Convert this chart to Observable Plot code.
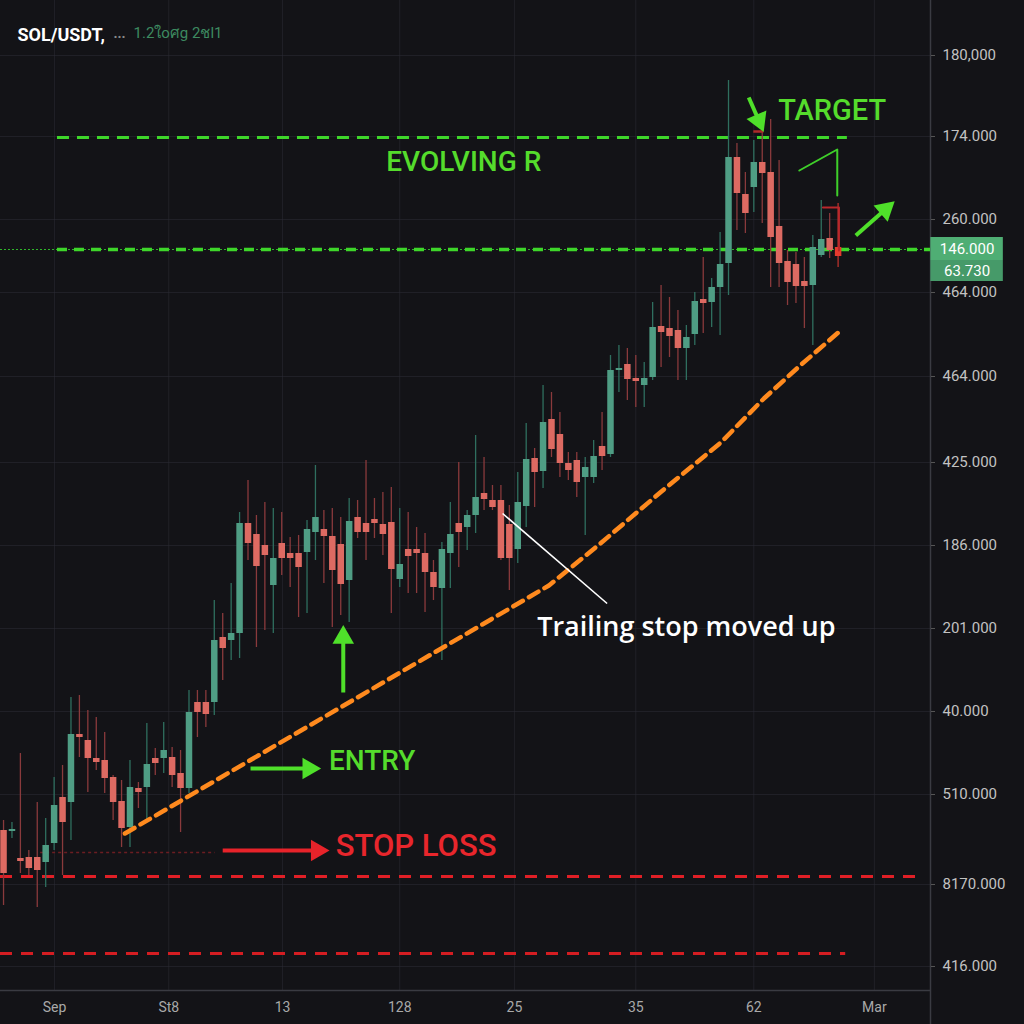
<!DOCTYPE html>
<html><head><meta charset="utf-8">
<script src="https://cdn.jsdelivr.net/npm/d3@7"></script>
<script src="https://cdn.jsdelivr.net/npm/@observablehq/plot@0.6"></script>
<style>html,body{margin:0;padding:0;background:#131317;overflow:hidden;}</style>
</head><body><div id="chart"></div>
<script>
// ---- candle data ----
const opens = [34.0,33.8,28.4,28.6,28.6,27.6,31.4,40.6,39.6,53.2,
52.0,48.4,48.0,44.6,39.8,34.6,42.4,42.6,48.4,48.4,
48.6,45.4,42.4,59.6,59.6,59.6,72.6,72.0,73.4,95.4,
93.2,91.0,83.0,91.4,89.4,89.4,89.6,93.6,94.2,92.8,
91.2,84.0,96.6,95.4,96.2,95.2,95.6,84.2,90.2,90.2,
89.4,85.6,82.4,89.4,95.4,94.6,97.0,101.4,100.0,100.0,
95.2,90.2,98.8,108.4,105.8,116.2,113.2,107.4,108.0,104.6,
104.6,110.8,109.2,126.0,127.2,124.4,123.0,124.6,134.8,134.4,
134.0,130.4,133.2,140.2,139.6,142.6,147.4,168.6,161.2,162.6,
167.6,165.6,154.8,147.8,147.2,143.8,143.0,149.0,152.4,150.6];
const highs = [36.0,35.6,49.4,30.0,39.6,36.4,44.6,47.0,60.6,61.0,
58.0,56.6,53.6,45.0,44.0,48.0,43.6,55.4,50.4,55.6,
50.6,50.0,62.0,62.0,62.0,80.0,77.4,83.4,97.6,104.0,
97.0,99.6,98.4,97.6,92.6,93.0,96.0,107.0,98.0,98.4,
96.6,100.4,100.0,108.0,100.4,101.6,102.6,98.4,97.6,94.6,
93.4,88.0,91.6,99.6,107.6,98.0,113.0,108.6,103.0,103.0,
99.0,105.6,115.4,110.4,123.0,121.6,117.6,109.6,109.6,108.6,
112.0,117.6,129.0,131.0,130.4,129.0,127.6,139.6,143.0,140.6,
138.0,135.0,141.6,148.6,144.4,153.6,184.0,171.4,165.6,172.0,
173.8,176.2,168.0,150.0,149.6,148.6,153.0,160.0,157.4,159.4];
const lows = [19.0,32.4,25.4,25.0,18.6,22.6,30.0,25.0,32.0,48.6,
41.6,46.0,41.4,36.0,30.6,30.6,38.4,36.0,45.0,45.4,
42.6,33.6,41.4,52.6,54.6,57.0,64.0,68.0,68.4,88.0,
70.6,74.0,73.4,85.0,82.6,76.6,77.4,88.0,83.4,74.6,
77.0,75.6,92.4,88.0,92.4,89.0,77.4,82.6,81.4,81.4,
77.6,80.0,68.0,82.4,86.6,90.0,93.4,98.0,98.0,88.0,
82.0,87.4,94.6,98.6,102.4,108.6,104.6,104.0,100.6,93.0,
103.4,106.0,108.6,121.6,120.0,118.6,118.6,124.0,126.6,128.6,
124.0,124.0,131.0,133.4,134.6,133.0,141.0,154.0,153.4,157.6,
155.4,142.6,142.6,139.0,139.4,134.4,131.0,148.6,148.4,146.6];
const closes = [25.4,34.2,27.8,26.4,26.0,31.0,39.0,35.6,53.2,52.6,
48.4,47.6,44.4,39.6,34.4,42.6,41.6,47.2,47.4,50.0,
45.0,42.4,57.6,57.6,57.2,72.0,70.4,73.4,95.4,91.4,
86.8,89.0,88.4,88.4,88.4,86.6,94.2,96.6,92.8,86.0,
83.2,95.8,93.6,93.6,95.4,93.2,86.2,87.2,88.8,89.4,
85.6,82.6,90.2,93.2,93.6,97.0,100.6,100.2,98.6,88.4,
88.4,99.6,108.2,105.6,115.6,110.2,107.4,106.0,103.6,106.6,
108.8,108.8,126.0,126.4,124.2,123.8,124.4,134.6,133.6,132.8,
130.4,132.6,139.8,139.4,142.6,147.2,168.6,161.4,157.4,167.6,
165.4,152.6,147.4,143.6,142.8,142.8,150.6,152.2,150.0,148.8];

// ---- axes ----
const xTicks = [6.05, 19.6, 33.1, 47.0, 60.6, 75.0, 89.0, 103.3];
const xLabels = ["Sep","St8","13","128","25","35","62","Mar"];
const yTicks = [189, 172.8, 156.2, 141.6, 124.8, 107.6, 91, 74.4, 57.8, 41.2, 23.2, 6.8];
const yLabels = ["180,000","174.000","260.000","464.000","464.000","425.000","186.000","201.000","40.000","510.000","8170.000","416.000"];
const xDomain = [-0.36, 109.96];
const yDomain = [2, 200];

// ---- levels & annotations ----
const targetLevel = 172.6;
const resistanceLevel = 150.2;
const stopLevel = 24.8;
const deepStopLevel = 9.4;
const faintStopLevel = 29.6;
const trailIdx = [14.4, 64.7, 70.8, 77.9, 85.1, 90.2, 94.5, 99.3];
const trailPrice = [33.4, 83.0, 91.4, 101.6, 111.6, 120.4, 127.0, 134.0];
const arrowX1 = [26.0, 29.3, 40.3, 88.4, 101.1];
const arrowY1 = [30.0, 46.4, 61.6, 180.6, 153.0];
const arrowX2 = [37.2, 36.2, 40.3, 89.6, 104.6];
const arrowY2 = [30.0, 46.4, 72.6, 176.0, 158.2];
const arrowRotate = [90, 90, 0, 157, 49];
const arrowColor = ["#e8232a", "#4fe02a", "#4fe02a", "#4fe02a", "#4fe02a"];
const labelText = ["TARGET", "ENTRY", "STOP LOSS"];
const labelX = [91.9, 38.6, 39.4];
const labelY = [178.0, 47.8, 30.8];
const labelColor = ["#55dc2c", "#55dc2c", "#e8262c"];
const labelSize = [29, 28, 31];
const priceTags = ["146.000", "63.730"];
const priceTagTop = [152.6, 148.0];
const priceTagBottom = [148.0, 143.8];
const priceTagFill = ["#4fae74", "#469a69"];

const candles = opens.map((o, i) => ({i, open: o, high: highs[i], low: lows[i], close: closes[i]}));
const last = candles.length - 1;
const bodyColor = d => d.i === last ? "#e53a2e" : (d.close >= d.open ? "#4f9d84" : "#dd6a62");
const wickColor = d => d.i === last ? "#b8322c" : (d.close >= d.open ? "#2f6f5f" : "#8a3a3c");
const trail = trailIdx.map((x, k) => ({x, y: trailPrice[k]}));
const arrows = arrowX1.map((x1, k) => ({x1, y1: arrowY1[k], x2: arrowX2[k], y2: arrowY2[k], r: arrowRotate[k], c: arrowColor[k]}));
const labels = labelText.map((t, k) => ({t, x: labelX[k], y: labelY[k], c: labelColor[k], s: labelSize[k]}));
const tags = priceTags.map((t, k) => ({t, y1: priceTagTop[k], y2: priceTagBottom[k], f: priceTagFill[k]}));
const xLab = new Map(xTicks.map((v, k) => [v, xLabels[k]]));
const yLab = new Map(yTicks.map((v, k) => [v, yLabels[k]]));

const chart = Plot.plot({
  width: 1024, height: 1024,
  marginTop: 0, marginLeft: 0, marginRight: 94, marginBottom: 34,
  x: {domain: xDomain, axis: null},
  y: {domain: yDomain, axis: null},
  style: {background: "#131317", color: "#bdbdbd", fontFamily: "Roboto, sans-serif", overflow: "visible"},
  marks: [
    Plot.gridY(yTicks, {stroke: "#2b2c34", strokeOpacity: 0.55}),
    Plot.gridX(xTicks, {stroke: "#2b2c34", strokeOpacity: 0.55}),
    Plot.ruleY([yDomain[0]], {stroke: "#3a3b42", strokeWidth: 1.5}),
    Plot.ruleX([xDomain[1]], {y1: -5, y2: yDomain[1], stroke: "#3a3b42", strokeWidth: 1.5}),
    Plot.axisY(yTicks, {anchor: "right", tickFormat: d => yLab.get(d), tickSize: 4, tickPadding: 8, fontSize: 15, color: "#c2c2c2", stroke: "#555"}),
    Plot.axisX(xTicks, {anchor: "bottom", tickFormat: d => xLab.get(d), tickSize: 0, tickPadding: 12, fontSize: 14, color: "#a9a9a9"}),
    // levels
    Plot.ruleY([targetLevel], {x1: 6.4, x2: 100.1, stroke: "#3ed62a", strokeWidth: 3, strokeDasharray: "12 8"}),
    Plot.ruleY([resistanceLevel], {x1: xDomain[0], x2: xDomain[1], stroke: "#2fb52a", strokeWidth: 1, strokeDasharray: "2 2"}),
    Plot.ruleY([resistanceLevel], {x1: 6.4, x2: xDomain[1], stroke: "#3ed62a", strokeWidth: 3.5, strokeDasharray: "10 7"}),
    Plot.ruleY([faintStopLevel], {x1: 4.4, x2: 25.1, stroke: "#6b1d22", strokeWidth: 1.5, strokeDasharray: "3 3"}),
    Plot.ruleY([stopLevel], {x1: xDomain[0], x2: 108.8, stroke: "#e01f26", strokeWidth: 3, strokeDasharray: "12 9"}),
    Plot.ruleY([deepStopLevel], {x1: xDomain[0], x2: 99.9, stroke: "#d41d22", strokeWidth: 3, strokeDasharray: "12 9"}),
    // candles
    Plot.ruleX(candles, {x: "i", y1: "low", y2: "high", stroke: wickColor, strokeWidth: 1.3}),
    Plot.ruleX(candles, {x: "i", y1: "open", y2: "close", stroke: bodyColor, strokeWidth: 6.5}),
    // trailing stop
    Plot.line(trail, {x: "x", y: "y", stroke: "#ff8a1e", strokeWidth: 4.5, strokeDasharray: "11 7", strokeLinejoin: "round"}),
    // small annotation strokes
    Plot.line([{x: 94.4, y: 166}, {x: 98.9, y: 170.2}, {x: 98.9, y: 161}], {x: "x", y: "y", stroke: "#3fcf2a", strokeWidth: 2}),
    Plot.line([{x: 97.2, y: 158.6}, {x: 99.1, y: 158.6}, {x: 99.1, y: 150}], {x: "x", y: "y", stroke: "#b8282c", strokeWidth: 2}),
    Plot.ruleY([173.8], {x1: 89.0, x2: 90.2, stroke: "#b02a2a", strokeWidth: 2.5}),
    Plot.link([{x1: 59.2, y1: 97.4, x2: 71.6, y2: 79.4}], {x1: "x1", y1: "y1", x2: "x2", y2: "y2", stroke: "white", strokeWidth: 1.6}),
    // arrows
    Plot.link(arrows, {x1: "x1", y1: "y1", x2: "x2", y2: "y2", stroke: "c", strokeWidth: 4}),
    Plot.dot(arrows, {x: "x2", y: "y2", symbol: "triangle", rotate: "r", fill: "c", r: 8}),
    // texts
    Plot.text(["EVOLVING R"], {x: 54.6, y: 167.6, textAnchor: "middle", fill: "#55dc2c", fontSize: 28, fontWeight: 500}),
    Plot.text(labels, {x: "x", y: "y", text: "t", textAnchor: "start", fill: "c", fontSize: "s", fontWeight: 500}),
    Plot.text(["Trailing stop moved up"], {x: 81, y: 74.6, textAnchor: "middle", fill: "white", fontSize: 27, fontWeight: 600, fontFamily: "'Open Sans', sans-serif"}),
    // price tags on axis
    Plot.rect(tags, {x1: 110.0, x2: 118.6, y1: "y1", y2: "y2", fill: "f"}),
    Plot.text(tags, {x: 114.3, y: d => (d.y1 + d.y2) / 2, text: "t", fill: "white", fontSize: 15}),
    // title
    Plot.text(["SOL/USDT,"], {frameAnchor: "top-left", dx: 17, dy: 28, textAnchor: "start", fill: "white", fontSize: 18, fontWeight: "bold"}),
    Plot.text(["..."], {frameAnchor: "top-left", dx: 113, dy: 28, textAnchor: "start", fill: "#8a8a8a", fontSize: 14, fontWeight: "bold"}),
    Plot.text(["1.2ใoศg 2ชl1"], {frameAnchor: "top-left", dx: 133, dy: 27, textAnchor: "start", fill: "#3d8a60", fontSize: 15})
  ]
});
document.getElementById("chart").appendChild(chart);
</script>
</body></html>
